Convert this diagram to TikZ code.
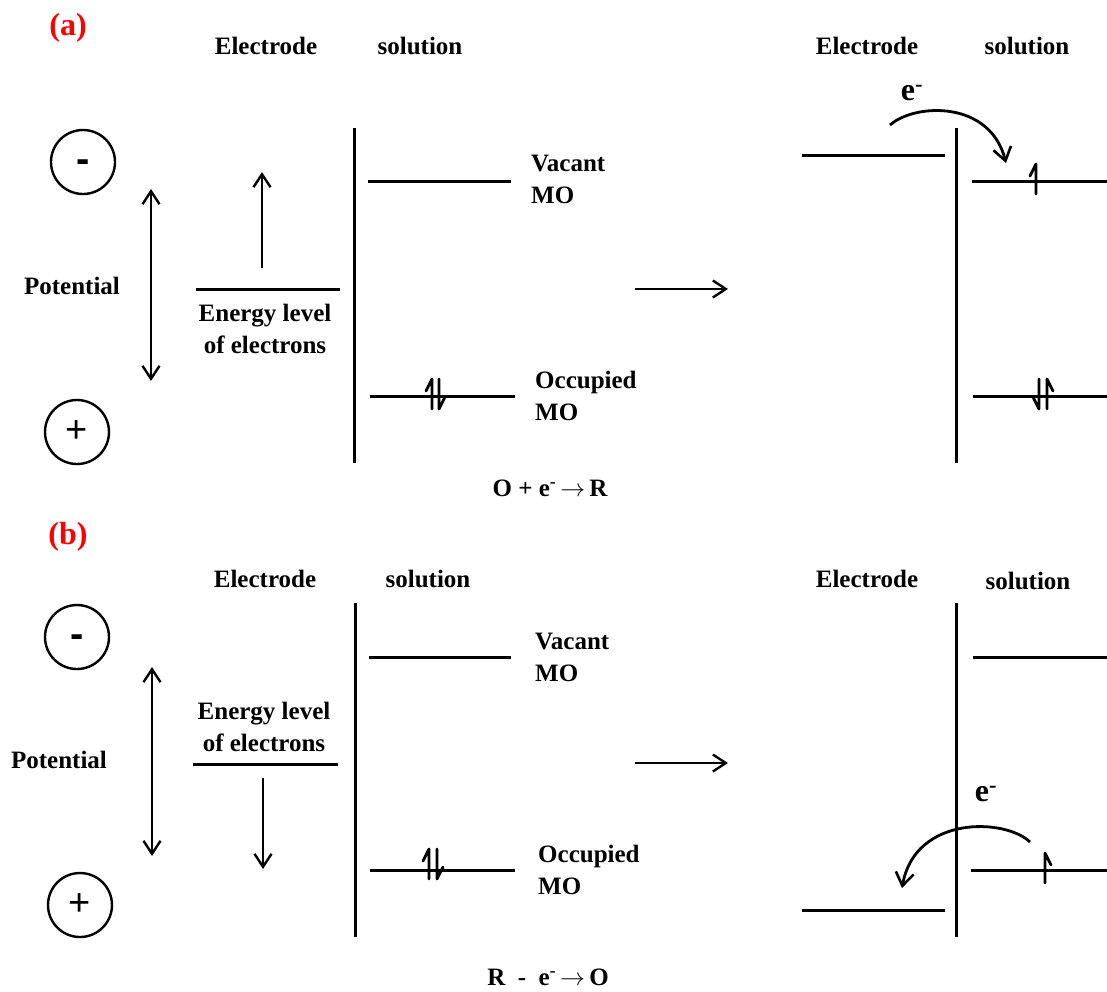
\documentclass[tikz,border=0pt]{standalone}
\usepackage{fontspec}
\setmainfont{Liberation Serif}
\setsansfont{Liberation Sans}
\usetikzlibrary{arrows.meta}
\begin{document}
\begin{tikzpicture}[x=1pt,y=-1pt,
  lvl/.style={line width=3pt},
  wall/.style={line width=3pt},
  arr/.style={line width=2.6pt,-{Straight Barb[length=13pt,width=17pt,line width=2.4pt]}},
  darr/.style={line width=2.6pt,{Straight Barb[length=13pt,width=17pt,line width=2.4pt]}-{Straight Barb[length=13pt,width=17pt,line width=2.4pt]}},
  curv/.style={line width=2.8pt,-{Straight Barb[length=13pt,width=18pt,line width=2.6pt]}},
  lbl/.style={font=\fontsize{25}{32}\bfseries\selectfont,align=center,inner sep=0pt},
  lblL/.style={lbl,align=left,anchor=west},
  tag/.style={font=\fontsize{32}{36}\bfseries\selectfont,text=red,inner sep=0pt},
  bige/.style={font=\fontsize{32}{36}\bfseries\selectfont,inner sep=0pt},
  sign/.style={circle,draw,line width=2.4pt,minimum size=64pt,inner sep=0pt},
  eupL/.pic={\draw[line width=2.8pt,line join=round,line cap=round] (0,15) -- (0,-15) -- (-6,-3);},
  eupR/.pic={\draw[line width=2.8pt,line join=round,line cap=round] (0,15) -- (0,-15) -- (6,-3);},
  edownL/.pic={\draw[line width=2.8pt,line join=round,line cap=round] (0,-15) -- (0,15) -- (-6,3);},
  edownR/.pic={\draw[line width=2.8pt,line join=round,line cap=round] (0,-15) -- (0,15) -- (6,3);}
]
\newcommand{\minussign}{\raisebox{-10pt}[0pt][0pt]{\fontsize{40}{40}\sffamily\bfseries\selectfont -}}
\newcommand{\plussign}{\fontsize{38}{38}\sffamily\selectfont +}
\newcommand{\rarr}{\,$\rightarrow$\,}
\useasboundingbox (0,0) rectangle (1107,991);

% ================= (a) =================
\node[tag] (taga) at (68,28) {(a)};
\node[lbl] (elA) at (266,46) {Electrode};
\node[lbl] (soA) at (420,46) {solution};
\node[lbl] (elA2) at (867,46) {Electrode};
\node[lbl] (soA2) at (1027,46) {solution};

\node[sign] (minA) at (83,162) {\minussign};
\node[sign] (plusA) at (77,432) {\plussign};
\coordinate (potAt) at (151,189);
\coordinate (potAb) at (151,381);
\draw[darr] (potAt) -- (potAb);
\node[lbl] (potA) at (72,286) {Potential};

% electrode energy level
\coordinate (eAl) at (196,289);
\coordinate (eAr) at (340,289);
\draw[lvl] (eAl) -- (eAr);
\coordinate (upA0) at (262,268);
\coordinate (upA1) at (262,172);
\draw[arr] (upA0) -- (upA1);
\node[lbl] (enA) at (265,329) {Energy level\\of electrons};

% interface
\coordinate (wAt) at (354,128);
\coordinate (wAb) at (354,463);
\draw[wall] (wAt) -- (wAb);

% vacant MO
\coordinate (vAl) at (368,181);
\coordinate (vAr) at (511,181);
\draw[lvl] (vAl) -- (vAr);
\node[lblL] (vAt) at (531,179) {Vacant\\MO};

% occupied MO
\coordinate (oAl) at (370,396);
\coordinate (oAr) at (515,396);
\draw[lvl] (oAl) -- (oAr);
\pic at (432,394) {eupL};
\pic at (439,394) {edownR};
\node[lblL] (oAt) at (535,396) {Occupied\\MO};

\node[lbl] (rxA) at (550,488) {O + e\textsuperscript{-}\rarr R};

\coordinate (hA0) at (635,289);
\coordinate (hA1) at (728,289);
\draw[arr] (hA0) -- (hA1);

% after (a)
\coordinate (eA2l) at (802,155);
\coordinate (eA2r) at (945,155);
\draw[lvl] (eA2l) -- (eA2r);
\coordinate (wA2t) at (956,128);
\coordinate (wA2b) at (956,463);
\draw[wall] (wA2t) -- (wA2b);
\coordinate (vA2l) at (972,181);
\coordinate (vA2r) at (1107,181);
\draw[lvl] (vA2l) -- (vA2r);
\pic at (1036,179) {eupL};
\coordinate (oA2l) at (973,396);
\coordinate (oA2r) at (1107,396);
\draw[lvl] (oA2l) -- (oA2r);
\pic at (1039,394) {edownL};
\pic at (1047,394) {eupR};

\coordinate (cA0) at (890,125);
\coordinate (cA1) at (1006,163);
\draw[curv] (cA0) .. controls (915,103) and (990,100) .. (cA1);
\node[bige] (eA) at (912,93) {e\textsuperscript{-}};

% ================= (b) =================
\node[tag] (tagb) at (68,537) {(b)};
\node[lbl] (elB) at (265,579) {Electrode};
\node[lbl] (soB) at (428,579) {solution};
\node[lbl] (elB2) at (867,579) {Electrode};
\node[lbl] (soB2) at (1028,581) {solution};

\node[sign] (minB) at (77,637) {\minussign};
\node[sign] (plusB) at (80,905) {\plussign};
\coordinate (potBt) at (152,667);
\coordinate (potBb) at (152,856);
\draw[darr] (potBt) -- (potBb);
\node[lbl] (potB) at (59,760) {Potential};

\node[lbl] (enB) at (264,727) {Energy level\\of electrons};
\coordinate (eBl) at (193,764);
\coordinate (eBr) at (338,764);
\draw[lvl] (eBl) -- (eBr);
\coordinate (dnB0) at (263,778);
\coordinate (dnB1) at (263,869);
\draw[arr] (dnB0) -- (dnB1);

\coordinate (wBt) at (355,603);
\coordinate (wBb) at (355,937);
\draw[wall] (wBt) -- (wBb);

\coordinate (vBl) at (369,657);
\coordinate (vBr) at (511,657);
\draw[lvl] (vBl) -- (vBr);
\node[lblL] (vBt) at (535,657) {Vacant\\MO};

\coordinate (oBl) at (370,870);
\coordinate (oBr) at (515,870);
\draw[lvl] (oBl) -- (oBr);
\pic at (429,864) {eupL};
\pic at (437,864) {edownR};
\node[lblL] (oBt) at (538,870) {Occupied\\MO};

\node[lbl] (rxB) at (548,977) {R\ \ -\ \ e\textsuperscript{-}\rarr O};

\coordinate (hB0) at (635,763);
\coordinate (hB1) at (728,763);
\draw[arr] (hB0) -- (hB1);

% after (b)
\coordinate (wB2t) at (956,603);
\coordinate (wB2b) at (956,937);
\draw[wall] (wB2t) -- (wB2b);
\coordinate (vB2l) at (973,657);
\coordinate (vB2r) at (1107,657);
\draw[lvl] (vB2l) -- (vB2r);
\coordinate (oB2l) at (971,870);
\coordinate (oB2r) at (1107,870);
\draw[lvl] (oB2l) -- (oB2r);
\pic at (1045,868) {eupR};
\coordinate (eB2l) at (802,910);
\coordinate (eB2r) at (945,910);
\draw[lvl] (eB2l) -- (eB2r);

\coordinate (cB0) at (1030,842);
\coordinate (cB1) at (902,888);
\draw[curv] (cB0) .. controls (1005,818) and (915,815) .. (cB1);
\node[bige] (eB) at (986,794) {e\textsuperscript{-}};
\end{tikzpicture}
\end{document}
